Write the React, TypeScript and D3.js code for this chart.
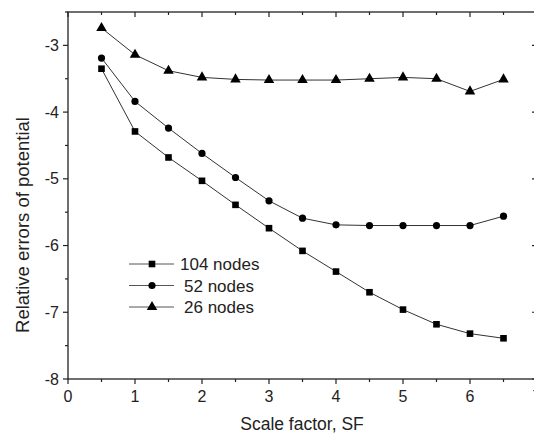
import React from "react";
import * as d3 from "d3";

const scaleFactors = [0.5, 1, 1.5, 2, 2.5, 3, 3.5, 4, 4.5, 5, 5.5, 6, 6.5];
const errors104 = [-3.35, -4.29, -4.68, -5.03, -5.39, -5.74, -6.08, -6.39, -6.7, -6.96, -7.18, -7.32, -7.39];
const errors52 = [-3.19, -3.84, -4.24, -4.62, -4.98, -5.33, -5.59, -5.69, -5.7, -5.7, -5.7, -5.7, -5.56];
const errors26 = [-2.74, -3.14, -3.38, -3.48, -3.51, -3.52, -3.52, -3.52, -3.5, -3.48, -3.5, -3.69, -3.51];
const seriesNames = ["104 nodes", "52 nodes", "26 nodes"];
const xTicks = [0, 1, 2, 3, 4, 5, 6, 7];
const yTicks = [-8, -7, -6, -5, -4, -3];

const W = 534;
const H = 434;
const left = 68;
const right = 537;
const top = 12;
const bottom = 379;
const ink = "#222";
const font = "Liberation Sans, Arial, sans-serif";

const x = d3.scaleLinear().domain([0, 7]).range([left, right]);
const y = d3.scaleLinear().domain([-8, -2.5]).range([bottom, top]);

type Shape = "square" | "circle" | "triangle";
const shapes: Shape[] = ["square", "circle", "triangle"];
const seriesValues = [errors104, errors52, errors26];

function Marker({ cx, cy, shape }: { cx: number; cy: number; shape: Shape }) {
  if (shape === "square") {
    return <rect x={cx - 3.3} y={cy - 3.3} width={6.6} height={6.6} fill="#000" />;
  }
  if (shape === "circle") {
    return <circle cx={cx} cy={cy} r={3.6} fill="#000" />;
  }
  const p = d3.symbol(d3.symbolTriangle, 48)();
  return <path d={p || ""} transform={`translate(${cx},${cy})`} fill="#000" />;
}

export default function App() {
  const line = d3
    .line<[number, number]>()
    .x((d) => x(d[0]))
    .y((d) => y(d[1]));

  const minorX = d3.range(0, 7.01, 0.5);
  const minorY = d3.range(-8, -2.49, 0.5);

  return (
    <svg
      width={W}
      height={H}
      style={{ position: "absolute", left: 0, top: 0, background: "#fff" }}
      fontFamily={font}
    >
      <rect x={0} y={0} width={W} height={H} fill="#fff" />
      {/* frame */}
      <rect x={left} y={top} width={right - left} height={bottom - top} fill="none" stroke={ink} strokeWidth={1.3} />

      {/* bottom axis ticks (outward) and mirrored top ticks (inward) */}
      {minorX.map((v) => {
        const major = Math.abs(v - Math.round(v)) < 1e-6;
        const len = major ? 5 : 3;
        return (
          <g key={`xt${v}`}>
            <line x1={x(v)} x2={x(v)} y1={bottom} y2={bottom + len} stroke={ink} strokeWidth={1.2} />
            <line x1={x(v)} x2={x(v)} y1={top} y2={top + len} stroke={ink} strokeWidth={1.2} />
          </g>
        );
      })}
      {/* left axis ticks (outward) and mirrored right ticks (inward) */}
      {minorY.map((v) => {
        const major = Math.abs(v - Math.round(v)) < 1e-6;
        const len = major ? 5 : 3;
        return (
          <g key={`yt${v}`}>
            <line x1={left - len} x2={left} y1={y(v)} y2={y(v)} stroke={ink} strokeWidth={1.2} />
            <line x1={right - len} x2={right} y1={y(v)} y2={y(v)} stroke={ink} strokeWidth={1.2} />
          </g>
        );
      })}

      {xTicks.map((v) => (
        <text key={`xl${v}`} x={x(v)} y={402} textAnchor="middle" fontSize={16} fill={ink}>
          {v}
        </text>
      ))}
      {yTicks.map((v) => (
        <text key={`yl${v}`} x={59} y={y(v) + 5.5} textAnchor="end" fontSize={16} fill={ink}>
          {v}
        </text>
      ))}

      <text x={302} y={430} textAnchor="middle" fontSize={17.5} fill={ink}>
        Scale factor, SF
      </text>
      <text
        transform={`translate(29,225) rotate(-90)`}
        textAnchor="middle"
        fontSize={18.5}
        fill={ink}
      >
        Relative errors of potential
      </text>

      {/* series */}
      {seriesValues.map((vals, i) => {
        const pts = scaleFactors.map((s, j) => [s, vals[j]] as [number, number]);
        return (
          <g key={`s${i}`}>
            <path d={line(pts) || ""} fill="none" stroke="#333" strokeWidth={1} />
            {pts.map((p, j) => (
              <Marker key={j} cx={x(p[0])} cy={y(p[1])} shape={shapes[i]} />
            ))}
          </g>
        );
      })}

      {/* legend */}
      {seriesNames.map((name, i) => {
        const ly = 264 + i * 21.5;
        return (
          <g key={`lg${i}`}>
            <line x1={129} x2={174} y1={ly} y2={ly} stroke="#555" strokeWidth={1} />
            <Marker cx={152} cy={ly} shape={shapes[i]} />
            <text x={i === 0 ? 180 : 184} y={ly + 6} fontSize={17} fill={ink}>
              {name}
            </text>
          </g>
        );
      })}
    </svg>
  );
}
